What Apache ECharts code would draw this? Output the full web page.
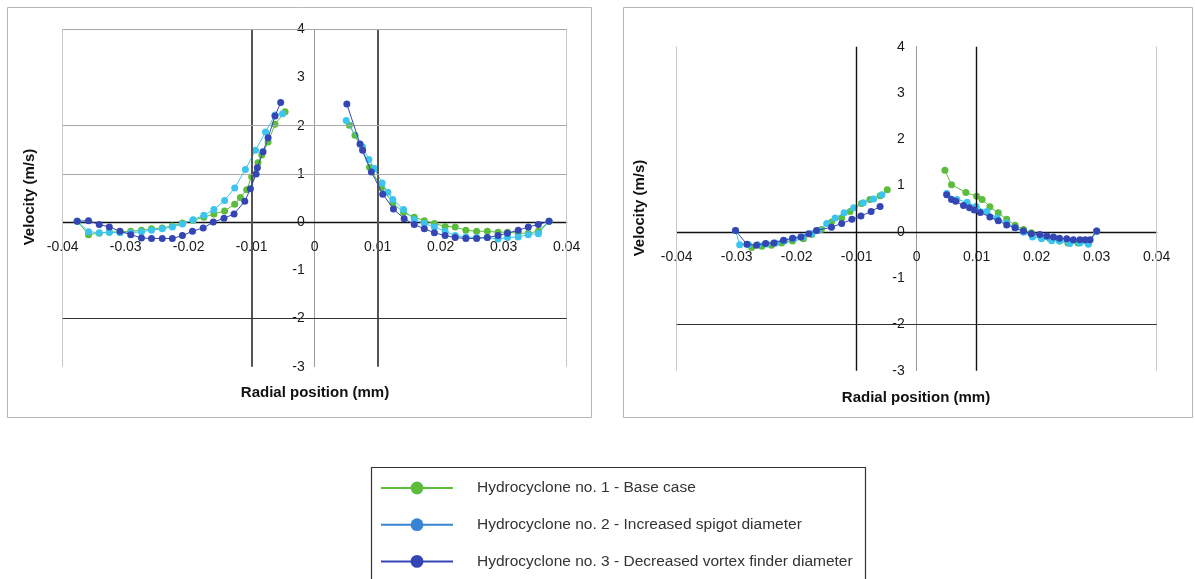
<!DOCTYPE html>
<html>
<head>
<meta charset="utf-8">
<script src="https://cdn.jsdelivr.net/npm/echarts@6/dist/echarts.min.js"></script>
<style>
html,body{margin:0;padding:0;background:#fff;}
#chart{width:1195px;height:579px;}
</style>
</head>
<body>
<div id="chart"></div>
<script>
// ---------- DATA ----------
var seriesNames = [
  'Hydrocyclone no. 1 - Base case',
  'Hydrocyclone no. 2 - Increased spigot diameter',
  'Hydrocyclone no. 3 - Decreased vortex finder diameter'
];
var xTicks = [-0.04, -0.03, -0.02, -0.01, 0, 0.01, 0.02, 0.03, 0.04];
var yTicks = [-3, -2, -1, 0, 1, 2, 3, 4];
var wallPositions = [-0.005, 0.005];
var leftHGrid = [4, 2, 1];
var leftHGridDark = [-2];
var rightHGridDark = [-2];
var edgeVGrid = [-0.04, 0.04];

// Left chart
var leftBaseIn = [[-0.0377,0.02],[-0.0359,-0.26],[-0.0342,-0.23],[-0.0326,-0.21],[-0.0309,-0.20],[-0.0292,-0.19],[-0.0275,-0.17],[-0.0259,-0.14],[-0.0242,-0.12],[-0.0226,-0.08],[-0.0210,-0.02],[-0.0193,0.04],[-0.0176,0.10],[-0.0160,0.17],[-0.0143,0.23],[-0.0127,0.37],[-0.0118,0.51],[-0.0108,0.67],[-0.0100,0.94],[-0.0090,1.23],[-0.0084,1.39],[-0.0074,1.66],[-0.0063,2.03],[-0.0047,2.29]];
var leftBaseOut = [[0.0055,2.01],[0.0064,1.80],[0.0087,1.14],[0.0106,0.71],[0.0124,0.40],[0.0141,0.20],[0.0158,0.10],[0.0174,0.03],[0.0190,-0.03],[0.0207,-0.09],[0.0223,-0.10],[0.0240,-0.17],[0.0257,-0.19],[0.0274,-0.19],[0.0291,-0.21],[0.0306,-0.21],[0.0323,-0.23],[0.0339,-0.23],[0.0355,-0.19],[0.0372,0.02]];
var leftSpigotIn = [[-0.0377,0.02],[-0.0359,-0.20],[-0.0342,-0.22],[-0.0326,-0.21],[-0.0309,-0.22],[-0.0292,-0.22],[-0.0275,-0.20],[-0.0259,-0.17],[-0.0242,-0.14],[-0.0226,-0.10],[-0.0210,-0.04],[-0.0193,0.05],[-0.0176,0.14],[-0.0160,0.26],[-0.0143,0.45],[-0.0127,0.71],[-0.0110,1.09],[-0.0094,1.49],[-0.0078,1.87],[-0.0063,2.22],[-0.0051,2.25]];
var leftSpigotOut = [[0.0050,2.11],[0.0076,1.56],[0.0086,1.30],[0.0095,1.11],[0.0107,0.81],[0.0116,0.62],[0.0124,0.47],[0.0141,0.26],[0.0158,0.05],[0.0174,-0.03],[0.0190,-0.10],[0.0207,-0.19],[0.0223,-0.28],[0.0240,-0.31],[0.0257,-0.32],[0.0274,-0.32],[0.0291,-0.35],[0.0306,-0.32],[0.0323,-0.31],[0.0339,-0.26],[0.0355,-0.24],[0.0372,0.02]];
var leftVortexIn = [[-0.0377,0.02],[-0.0359,0.03],[-0.0342,-0.05],[-0.0326,-0.10],[-0.0309,-0.19],[-0.0292,-0.26],[-0.0275,-0.33],[-0.0259,-0.34],[-0.0242,-0.34],[-0.0226,-0.34],[-0.0210,-0.28],[-0.0194,-0.19],[-0.0177,-0.12],[-0.0161,0.00],[-0.0144,0.08],[-0.0128,0.17],[-0.0111,0.43],[-0.0102,0.69],[-0.0093,1.00],[-0.0091,1.13],[-0.0082,1.46],[-0.0074,1.75],[-0.0063,2.20],[-0.0054,2.48]];
var leftVortexOut = [[0.0051,2.45],[0.0072,1.62],[0.0076,1.49],[0.0090,1.04],[0.0108,0.58],[0.0125,0.27],[0.0142,0.07],[0.0158,-0.05],[0.0174,-0.14],[0.0190,-0.22],[0.0207,-0.28],[0.0223,-0.32],[0.0240,-0.34],[0.0257,-0.34],[0.0274,-0.32],[0.0291,-0.28],[0.0306,-0.23],[0.0323,-0.17],[0.0339,-0.10],[0.0355,-0.05],[0.0372,0.02]];

// Right chart
var rightBaseIn = [[-0.0275,-0.34],[-0.0258,-0.31],[-0.0242,-0.29],[-0.0225,-0.24],[-0.0207,-0.20],[-0.0189,-0.15],[-0.0175,-0.06],[-0.0159,0.05],[-0.0142,0.21],[-0.0125,0.30],[-0.0111,0.44],[-0.0092,0.61],[-0.0078,0.70],[-0.0061,0.78],[-0.0049,0.91]];
var rightBaseOut = [[0.0047,1.33],[0.0058,1.02],[0.0082,0.85],[0.0100,0.77],[0.0109,0.70],[0.0122,0.54],[0.0136,0.41],[0.0150,0.27],[0.0164,0.14],[0.0178,0.05],[0.0191,-0.02],[0.0208,-0.11],[0.0222,-0.15],[0.0238,-0.20],[0.0252,-0.24],[0.0269,-0.24],[0.0286,-0.25],[0.0300,0.01]];
var rightSpigotIn = [[-0.0302,0.03],[-0.0295,-0.28],[-0.0280,-0.28],[-0.0265,-0.28],[-0.0250,-0.26],[-0.0235,-0.24],[-0.0220,-0.19],[-0.0205,-0.15],[-0.0190,-0.11],[-0.0175,-0.04],[-0.0165,0.03],[-0.0150,0.18],[-0.0136,0.30],[-0.0121,0.41],[-0.0105,0.52],[-0.0089,0.63],[-0.0072,0.71],[-0.0058,0.80]];
var rightSpigotOut = [[0.0050,0.83],[0.0067,0.70],[0.0084,0.64],[0.0099,0.55],[0.0117,0.44],[0.0134,0.30],[0.0150,0.19],[0.0164,0.09],[0.0178,-0.01],[0.0193,-0.11],[0.0208,-0.15],[0.0225,-0.19],[0.0238,-0.20],[0.0255,-0.25],[0.0272,-0.24],[0.0286,-0.27],[0.0300,0.02]];
var rightVortexIn = [[-0.0302,0.03],[-0.0283,-0.27],[-0.0267,-0.29],[-0.0252,-0.25],[-0.0238,-0.24],[-0.0222,-0.18],[-0.0207,-0.14],[-0.0193,-0.11],[-0.0180,-0.04],[-0.0167,0.03],[-0.0142,0.10],[-0.0125,0.18],[-0.0108,0.27],[-0.0093,0.34],[-0.0076,0.44],[-0.0061,0.55]];
var rightVortexOut = [[0.0050,0.80],[0.0058,0.70],[0.0065,0.66],[0.0078,0.57],[0.0088,0.52],[0.0096,0.47],[0.0106,0.42],[0.0122,0.32],[0.0136,0.24],[0.0150,0.15],[0.0164,0.09],[0.0178,0.02],[0.0191,-0.04],[0.0205,-0.06],[0.0217,-0.09],[0.0228,-0.11],[0.0238,-0.14],[0.0250,-0.15],[0.0261,-0.17],[0.0272,-0.17],[0.0281,-0.17],[0.0289,-0.17],[0.0300,0.02]];

// ---------- STYLE / LAYOUT ----------
var FONT = '"Liberation Sans", Arial, Helvetica, sans-serif';
var colors = ['#5cbd3c', '#3cc4f0', '#3446b4'];
var legendColors = ['#5cbd3c', '#3784d2', '#3446b4'];
var grids = [
  { left: 62.7, top: 29.3, width: 504, height: 337.4 },
  { left: 676.7, top: 46.7, width: 480, height: 324 }
];
var xMin = xTicks[0], xMax = xTicks[xTicks.length - 1];
var yMin = yTicks[0], yMax = yTicks[yTicks.length - 1];

function fmtX(v) {
  var s = (+v.toFixed(2)).toString();
  return s === '-0' ? '0' : s;
}

// Axes crossing at zero (Excel style): shift axis from grid edge to the zero position.
function makeXAxis(gi) {
  var g = grids[gi];
  var zeroOffset = g.height * (0 - yMin) / (yMax - yMin);
  return {
    type: 'value', gridIndex: gi, position: 'bottom', offset: -zeroOffset,
    min: xMin, max: xMax, interval: 0.01,
    axisLine: { onZero: false, lineStyle: { color: '#111', width: 1.4 } },
    axisTick: { show: false },
    splitLine: { show: false },
    axisLabel: { formatter: fmtX, color: '#1a1a1a', fontSize: 14, fontFamily: FONT, margin: 18 }
  };
}
function makeYAxis(gi, labelMargin) {
  var g = grids[gi];
  var zeroOffset = g.width * (0 - xMin) / (xMax - xMin);
  return {
    type: 'value', gridIndex: gi, position: 'left', offset: -zeroOffset,
    min: yMin, max: yMax, interval: 1,
    axisLine: { onZero: false, lineStyle: { color: '#999', width: 1 } },
    axisTick: { show: false },
    splitLine: { show: false },
    axisLabel: { color: '#1a1a1a', fontSize: 14, fontFamily: FONT, margin: labelMargin }
  };
}

function refLines(gi, cfg) {
  var data = [];
  cfg.edge.forEach(function (v) { data.push({ xAxis: v, lineStyle: { color: '#c8c8c8', width: 1, type: 'solid' } }); });
  cfg.walls.forEach(function (v) { data.push({ xAxis: v, lineStyle: { color: cfg.wallColor, width: cfg.wallWidth, type: 'solid' } }); });
  cfg.light.forEach(function (v) { data.push({ yAxis: v, lineStyle: { color: '#a8a8a8', width: 1, type: 'solid' } }); });
  cfg.dark.forEach(function (v) { data.push({ yAxis: v, lineStyle: { color: '#333', width: 1.2, type: 'solid' } }); });
  return {
    type: 'line', xAxisIndex: gi, yAxisIndex: gi, data: [], z: 1, silent: true,
    markLine: { symbol: ['none', 'none'], silent: true, animation: false, label: { show: false }, data: data }
  };
}

function dataSeries(gi, idx, data) {
  return {
    name: seriesNames[idx], type: 'line', xAxisIndex: gi, yAxisIndex: gi,
    data: data, symbol: 'circle', symbolSize: 7, showSymbol: true, z: 3 + idx,
    itemStyle: { color: colors[idx] },
    lineStyle: { color: colors[idx], width: 1 },
    animation: false
  };
}

var series = [
  refLines(0, { edge: edgeVGrid, walls: wallPositions, wallColor: '#555', wallWidth: 2, light: leftHGrid, dark: leftHGridDark }),
  refLines(1, { edge: edgeVGrid, walls: wallPositions, wallColor: '#111', wallWidth: 1.4, light: [], dark: rightHGridDark }),
  dataSeries(0, 0, leftBaseIn), dataSeries(0, 0, leftBaseOut),
  dataSeries(0, 1, leftSpigotIn), dataSeries(0, 1, leftSpigotOut),
  dataSeries(0, 2, leftVortexIn), dataSeries(0, 2, leftVortexOut),
  dataSeries(1, 0, rightBaseIn), dataSeries(1, 0, rightBaseOut),
  dataSeries(1, 1, rightSpigotIn), dataSeries(1, 1, rightSpigotOut),
  dataSeries(1, 2, rightVortexIn), dataSeries(1, 2, rightVortexOut)
];

var chart = echarts.init(document.getElementById('chart'), null, { renderer: 'canvas' });
chart.setOption({
  backgroundColor: '#fff',
  animation: false,
  grid: grids.map(function (g) { return { left: g.left, top: g.top, width: g.width, height: g.height, containLabel: false }; }),
  xAxis: [makeXAxis(0), makeXAxis(1)],
  yAxis: [makeYAxis(0, 10), makeYAxis(1, 12)],
  legend: {
    orient: 'vertical', left: 380, top: 480, height: 96, padding: 0,
    itemWidth: 72, itemHeight: 16, itemGap: 20.7,
    lineStyle: { width: 2 },
    textStyle: { fontSize: 15.5, color: '#333', fontFamily: FONT, lineHeight: 16, padding: [0, 0, 0, 19] },
    data: seriesNames.map(function (n, i) {
      return { name: n, itemStyle: { color: legendColors[i] }, lineStyle: { color: legendColors[i], width: 2 } };
    })
  },
  graphic: [
    { type: 'rect', shape: { x: 7.5, y: 7.5, width: 584, height: 410 }, style: { fill: 'none', stroke: '#b5b5b5', lineWidth: 1 }, z: 0 },
    { type: 'rect', shape: { x: 623.5, y: 7.5, width: 569, height: 410 }, style: { fill: 'none', stroke: '#b5b5b5', lineWidth: 1 }, z: 0 },
    { type: 'rect', shape: { x: 371.5, y: 467.5, width: 494, height: 150 }, style: { fill: 'none', stroke: '#333', lineWidth: 1.2 }, z: 0 },
    { type: 'text', x: 30, y: 197, rotation: Math.PI / 2, style: { text: 'Velocity (m/s)', font: 'bold 15px ' + FONT, fill: '#111', textAlign: 'center', textVerticalAlign: 'middle' } },
    { type: 'text', x: 640, y: 208, rotation: Math.PI / 2, style: { text: 'Velocity (m/s)', font: 'bold 15px ' + FONT, fill: '#111', textAlign: 'center', textVerticalAlign: 'middle' } },
    { type: 'text', x: 315, y: 393, style: { text: 'Radial position (mm)', font: 'bold 15px ' + FONT, fill: '#111', textAlign: 'center', textVerticalAlign: 'middle' } },
    { type: 'text', x: 916, y: 398, style: { text: 'Radial position (mm)', font: 'bold 15px ' + FONT, fill: '#111', textAlign: 'center', textVerticalAlign: 'middle' } }
  ],
  series: series
});
</script>
</body>
</html>
